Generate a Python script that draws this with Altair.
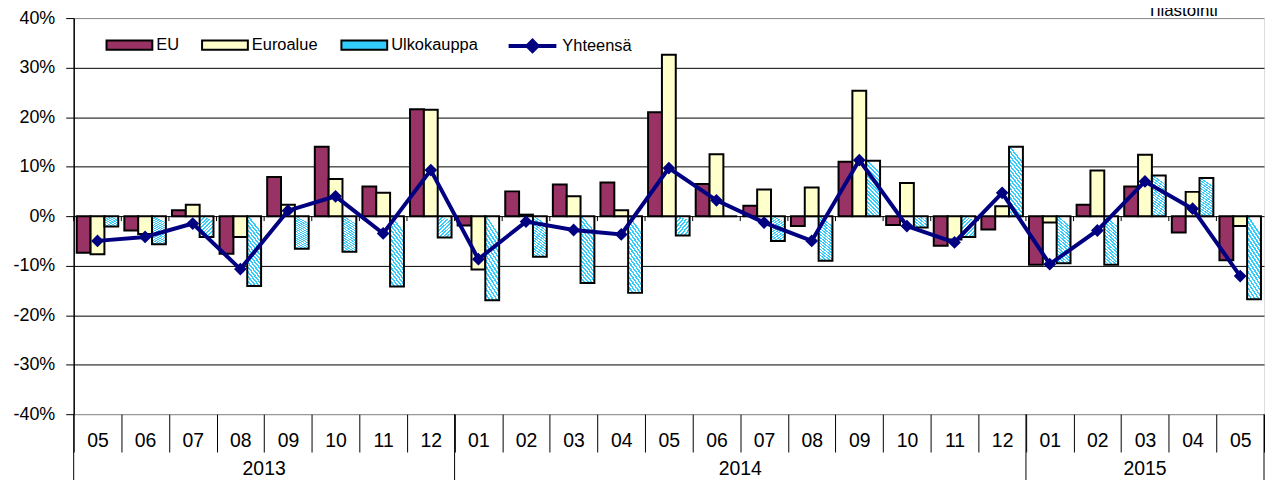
import altair as alt
import pandas as pd

# ---------------- data ----------------
years = ["2013"] * 8 + ["2014"] * 12 + ["2015"] * 5
months = ["05", "06", "07", "08", "09", "10", "11", "12",
          "01", "02", "03", "04", "05", "06", "07", "08", "09", "10", "11", "12",
          "01", "02", "03", "04", "05"]
eu = [-7.4, -2.9, 1.2, -7.6, 7.9, 14.0, 6.0, 21.6,
      -1.9, 5.0, 6.4, 6.8, 21.0, 6.5, 2.1, -2.0, 11.0, -1.8, -6.0, -2.7,
      -9.8, 2.3, 6.0, -3.3, -8.9]
euro = [-7.7, -3.6, 2.3, -4.2, 2.3, 7.5, 4.7, 21.5,
        -10.8, 0.3, 4.0, 1.2, 32.6, 12.5, 5.4, 5.8, 25.3, 6.7, -4.7, 2.0,
        -1.3, 9.2, 12.4, 4.9, -2.0]
ulko = [-2.1, -5.7, -4.2, -14.1, -6.6, -7.2, -14.2, -4.3,
        -17.0, -8.2, -13.5, -15.5, -3.9, 0.0, -5.0, -9.0, 11.2, -2.3, -4.2, 14.0,
        -9.5, -9.8, 8.2, 7.7, -16.8]
total = [-5.0, -4.2, -1.5, -10.7, 1.1, 4.0, -3.5, 9.3,
         -8.7, -1.1, -2.8, -3.7, 9.7, 3.2, -1.3, -5.0, 11.3, -2.0, -5.3, 4.7,
         -9.7, -2.9, 7.0, 1.5, -12.1]
series_names = ["EU", "Euroalue", "Ulkokauppa"]
total_name = "Yhteensä"
y_ticks = [-40, -30, -20, -10, 0, 10, 20, 30, 40]
source_note = "Tilastointi"

# ---------------- tables ----------------
keys = [f"{y}-{m}" for y, m in zip(years, months)]
rows = []
for k, a, b, c in zip(keys, eu, euro, ulko):
    rows += [{"key": k, "series": series_names[0], "value": a},
             {"key": k, "series": series_names[1], "value": b},
             {"key": k, "series": series_names[2], "value": c}]
bars_df = pd.DataFrame(rows)
line_df = pd.DataFrame({"key": keys, "value": total, "name": total_name})
keys_df = pd.DataFrame({"key": keys})

# year groups
year_rows, sep_rows = [], []
start = 0
for yr in sorted(set(years)):
    n = years.count(yr)
    mid = keys[start + n // 2]
    year_rows.append({"year": yr, "key": mid, "odd": n % 2})
    sep_rows.append({"key": keys[start]})
    start += n
year_df = pd.DataFrame(year_rows)
sep_df = pd.DataFrame(sep_rows)
end_df = pd.DataFrame({"key": [keys[-1]]})

FONT = "Liberation Sans"
NAVY = "#000080"
CYAN = "#33CCFF"

x_scale = alt.Scale(domain=keys, paddingInner=0, paddingOuter=0)
x_axis = alt.Axis(title=None, labelExpr="slice(datum.label, 5)", labelAngle=0,
                  tickBand="extent", tickSize=38, tickColor="black", tickWidth=1,
                  domain=False, grid=False, labelFont=FONT, labelFontSize=19.5,
                  labelColor="black", labelBaseline="alphabetic", labelPadding=-6)
y_scale = alt.Scale(domain=[-40, 40], nice=False, zero=False)
y_axis = alt.Axis(title=None, values=y_ticks,
                  labelExpr="(datum.value < 0 ? '-' : '') + abs(datum.value) + '%'",
                  tickSize=8, tickColor="black", tickWidth=1,
                  domainColor="black", domainWidth=1.5,
                  labelFont=FONT, labelFontSize=18, labelColor="black", labelPadding=11,
                  grid=True,
                  gridColor={"condition": {"test": "abs(datum.value) >= 40", "value": "#888888"},
                             "value": "black"},
                  gridWidth=1)
xoff_scale = alt.Scale(domain=series_names, paddingInner=0, paddingOuter=0.22)


def X(**kw):
    return alt.X("key:N", scale=x_scale, axis=x_axis, **kw)


# hatch gradient for Ulkokauppa
N = 16
stops = []
for k in range(N):
    a, b, c = k / N, (k + 0.5) / N, (k + 1) / N
    stops += [{"offset": a, "color": CYAN}, {"offset": b, "color": CYAN},
              {"offset": b, "color": "white"}, {"offset": c, "color": "white"}]
hatch = {"gradient": "linear", "x1": 0, "y1": 1, "x2": 0.25, "y2": 0, "stops": stops}

bars = alt.Chart(bars_df).transform_filter(
    alt.FieldOneOfPredicate(field="series", oneOf=series_names[:2])
).mark_bar(stroke="black", strokeWidth=2).encode(
    x=X(),
    xOffset=alt.XOffset("series:N", scale=xoff_scale),
    y=alt.Y("value:Q", scale=y_scale, axis=y_axis),
    fill=alt.Fill("series:N", scale=alt.Scale(domain=series_names,
                                              range=["#993366", "#FFFFCC", CYAN]),
                  legend=alt.Legend(orient="none", legendX=32, legendY=3,
                                    direction="horizontal", title=None,
                                    symbolType="M-1,-0.2H1V0.2H-1Z", symbolSize=2116,
                                    symbolStrokeColor="black", symbolStrokeWidth=2,
                                    labelFont=FONT, labelFontSize=16.5, labelColor="black",
                                    labelOffset=3, columnPadding=19, padding=0)),
)

ulko_bars = alt.Chart(bars_df).transform_filter(
    alt.datum.series == series_names[2]
).mark_bar(stroke="black", strokeWidth=2, fill=hatch).encode(
    x=X(),
    xOffset=alt.XOffset("series:N", scale=xoff_scale),
    y=alt.Y("value:Q", scale=y_scale, axis=y_axis),
)

zero_ticks = alt.Chart(keys_df).mark_rule(color="black", strokeWidth=1).encode(
    x=X(bandPosition=0),
    y=alt.YDatum(datum=0, type="quantitative", scale=y_scale, axis=y_axis),
    y2=alt.Y2Datum(datum=-1),
)

line = alt.Chart(line_df).mark_line(
    strokeWidth=4, color=NAVY,
    point=alt.OverlayMarkDef(shape="diamond", size=100, filled=True, color=NAVY),
).encode(
    x=X(),
    y=alt.Y("value:Q", scale=y_scale, axis=y_axis),
    stroke=alt.Stroke("name:N", scale=alt.Scale(domain=[total_name], range=[NAVY]),
                      legend=alt.Legend(orient="none", legendX=435, legendY=2, title=None,
                                        symbolType="M-1,0H1M-0.21,0L0,-0.21L0.21,0L0,0.21Z",
                                        symbolSize=2304, symbolStrokeWidth=4,
                                        symbolFillColor=NAVY,
                                        labelFont=FONT, labelFontSize=16.5,
                                        labelColor="black", labelOffset=4, padding=0)),
)

year_seps = alt.Chart(sep_df).mark_rule(color="black", strokeWidth=1).encode(
    x=X(bandPosition=0), y=alt.value(398), y2=alt.value(475))
end_sep = alt.Chart(end_df).mark_rule(color="black", strokeWidth=1).encode(
    x=X(bandPosition=1), y=alt.value(398), y2=alt.value(475))

text_style = dict(font=FONT, fontSize=19.5, color="black", align="center",
                  baseline="alphabetic")
year_even = alt.Chart(year_df).transform_filter(alt.datum.odd == 0).mark_text(
    **text_style).encode(x=X(bandPosition=0), y=alt.value(459), text="year:N")
year_odd = alt.Chart(year_df).transform_filter(alt.datum.odd == 1).mark_text(
    **text_style).encode(x=X(bandPosition=0.5), y=alt.value(459), text="year:N")

note = alt.Chart(pd.DataFrame({"t": [source_note]})).mark_text(
    font=FONT, fontSize=17, color="black", align="center", baseline="alphabetic"
).encode(text="t:N", x=alt.value(1114), y=alt.value(-2))

chart = alt.layer(
    bars, ulko_bars, zero_ticks, line, year_seps, end_sep, year_even, year_odd, note
).properties(
    width=1196, height=398,
    autosize=alt.AutoSizeParams(type="none"),
    padding={"left": 66, "top": 9, "right": 2, "bottom": 65},
).resolve_scale(
    fill="independent", stroke="independent"
).configure_view(
    stroke="#888888", strokeWidth=2
).configure(background="white")

chart.save("out.html", embed_options={"renderer": "svg", "actions": False})
